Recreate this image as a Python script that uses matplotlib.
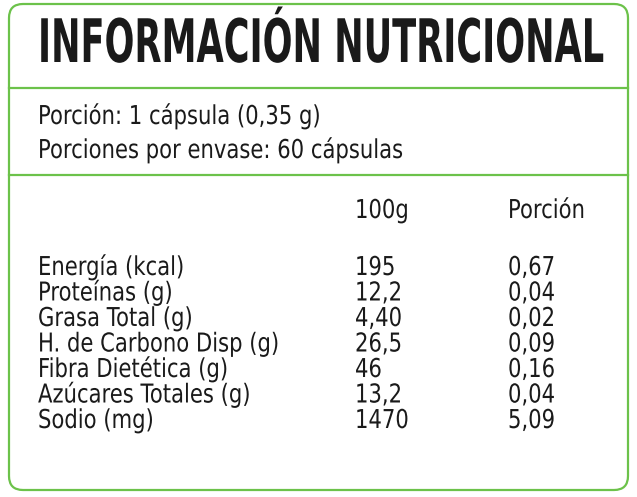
import matplotlib.pyplot as plt
from matplotlib.patches import FancyBboxPatch, PathPatch
from matplotlib.textpath import TextPath
from matplotlib.font_manager import FontProperties
from matplotlib.transforms import Affine2D

title = 'INFORMACIÓN NUTRICIONAL'
serving = ['Porción: 1 cápsula (0,35 g)', 'Porciones por envase: 60 cápsulas']
columns = ['100g', 'Porción']
nutrients = ['Energía (kcal)', 'Proteínas (g)', 'Grasa Total (g)', 'H. de Carbono Disp (g)',
             'Fibra Dietética (g)', 'Azúcares Totales (g)', 'Sodio (mg)']
per_100g = ['195', '12,2', '4,40', '26,5', '46', '13,2', '1470']
per_portion = ['0,67', '0,04', '0,02', '0,09', '0,16', '0,04', '5,09']

green = '#6cc24a'
regular = FontProperties(family='DejaVu Sans')
bold = FontProperties(family='DejaVu Sans', weight='bold')

fig = plt.figure(figsize=(6.37, 4.97), dpi=100)
ax = fig.add_axes([0, 0, 1, 1])
ax.set_xlim(0, 637)
ax.set_ylim(497, 0)
ax.axis('off')


def width_of(s, size, prop):
    ext = TextPath((0, 0), s, size=size, prop=prop).get_extents()
    return ext.x1 - ext.x0


def draw(s, x, baseline, size, sx, prop=regular):
    # condensed text: draw glyph outlines squeezed horizontally
    path = TextPath((0, 0), s, size=size, prop=prop)
    tr = Affine2D().scale(sx, -1).translate(x, baseline)
    ax.add_patch(PathPatch(tr.transform_path(path), facecolor='#1a1a1a', edgecolor='none'))


box = FancyBboxPatch((9, 4), 619, 486, boxstyle='round,pad=0,rounding_size=14',
                     fill=False, edgecolor=green, linewidth=1.6)
ax.add_patch(box)
ax.plot([9, 628], [88, 88], color=green, lw=1.6)
ax.plot([9, 628], [175, 175], color=green, lw=1.6)

tsize = 60
draw(title, 38, 62, tsize, 562 / width_of(title, tsize, bold), bold)

size = 26
sx = 362 / width_of(serving[1], size, regular)
draw(serving[0], 38, 124, size, sx)
draw(serving[1], 38, 158, size, sx)

draw(columns[0], 355, 218, size, sx)
draw(columns[1], 508, 218, size, sx)

for i, (n, a, b) in enumerate(zip(nutrients, per_100g, per_portion)):
    y = 275 + i * 25.5
    draw(n, 38, y, size, sx)
    draw(a, 355, y, size, sx)
    draw(b, 508, y, size, sx)

fig.savefig('out.png', dpi=100)
